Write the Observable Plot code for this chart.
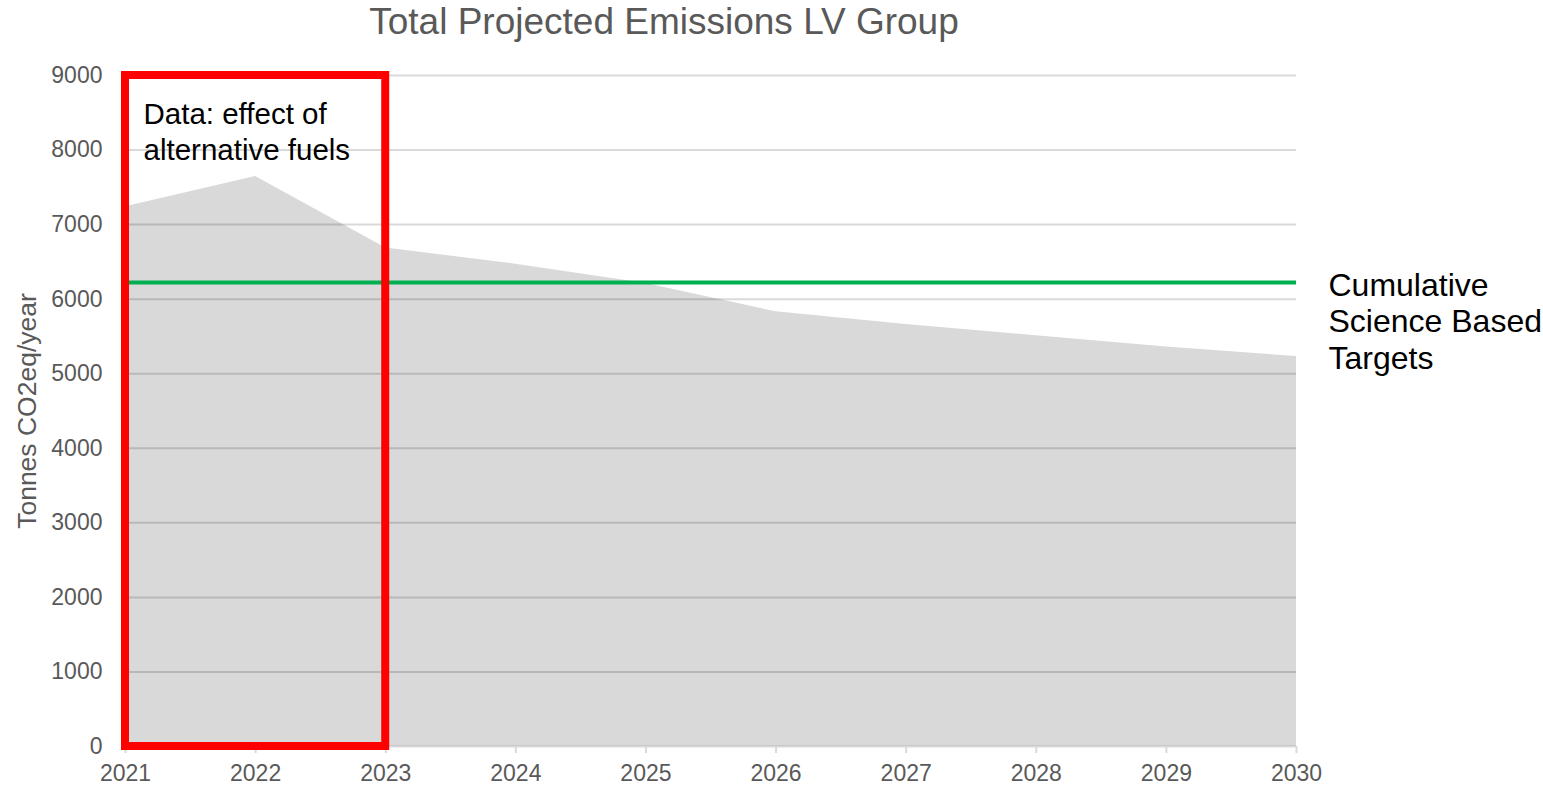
<!DOCTYPE html>
<html>
<head>
<meta charset="utf-8">
<script src="https://cdn.jsdelivr.net/npm/d3@7"></script>
<script src="https://cdn.jsdelivr.net/npm/@observablehq/plot@0.6"></script>
<style>
  body { margin: 0; background: #fff; font-family: "Liberation Sans", Arial, sans-serif; }
  #title { width: 1328px; height: 44px; text-align: center; font-size: 37px; line-height: 44px; color: #595959; white-space: nowrap; }
</style>
</head>
<body>
<div id="title">Total Projected Emissions LV Group</div>
<div id="chart"></div>
<script>
const years = [2021, 2022, 2023, 2024, 2025, 2026, 2027, 2028, 2029, 2030];
const emissions = [7240, 7645, 6685, 6470, 6210, 5830, 5660, 5510, 5360, 5230];
const targetValue = 6224;
const yTicks = [0, 1000, 2000, 3000, 4000, 5000, 6000, 7000, 8000, 9000];
const highlightYears = [2021, 2023];
const highlightText = "Data: effect of\nalternative fuels";
const targetText = "Cumulative\nScience Based\nTargets";
const yLabel = "Tonnes CO2eq/year";

const data = years.map((y, i) => ({year: y, value: emissions[i]}));

const chart = Plot.plot({
  width: 1543,
  height: 744,
  marginTop: 31,
  marginBottom: 42,
  marginLeft: 125,
  marginRight: 247,
  style: {fontFamily: '"Liberation Sans", Arial, sans-serif', color: "#595959", background: "#fff"},
  x: {domain: [years[0], years[years.length - 1]]},
  y: {domain: [0, 9000]},
  marks: [
    Plot.areaY(data, {x: "year", y: "value", fill: "#d9d9d9"}),
    Plot.gridY(yTicks, {stroke: "#000", strokeOpacity: 0.15, strokeWidth: 2}),
    Plot.axisY(yTicks, {tickSize: 0, tickPadding: 23, fontSize: 23, label: null, tickFormat: d => String(d), fill: "#595959"}),
    Plot.axisX(years, {tickSize: 7, tickPadding: 11, fontSize: 23, label: null, tickFormat: d => String(d), stroke: "#d9d9d9", strokeWidth: 2, fill: "#595959"}),
    Plot.ruleY([targetValue], {x1: years[0], x2: years[years.length - 1], stroke: "#00b050", strokeWidth: 4}),
    Plot.rect([{x1: highlightYears[0], x2: highlightYears[1], y1: yTicks[0], y2: yTicks[yTicks.length - 1]}],
      {x1: "x1", x2: "x2", y1: "y1", y2: "y2", fill: "none", stroke: "#ff0000", strokeWidth: 8}),
    Plot.text([highlightText], {x: highlightYears[0], y: yTicks[yTicks.length - 1], text: d => d, dx: 18, dy: 55,
      textAnchor: "start", lineAnchor: "middle", lineHeight: 1.2, fontSize: 29.5, fill: "#000"}),
    Plot.text([targetText], {x: years[years.length - 1], y: targetValue, text: d => d, dx: 32, dy: 38,
      textAnchor: "start", lineAnchor: "middle", lineHeight: 1.14, fontSize: 32, fill: "#000"}),
    Plot.text([yLabel], {frameAnchor: "left", text: d => d, rotate: -90, dx: -98, textAnchor: "middle", fontSize: 26.5, fill: "#595959"})
  ]
});
document.getElementById("chart").appendChild(chart);
</script>
</body>
</html>
